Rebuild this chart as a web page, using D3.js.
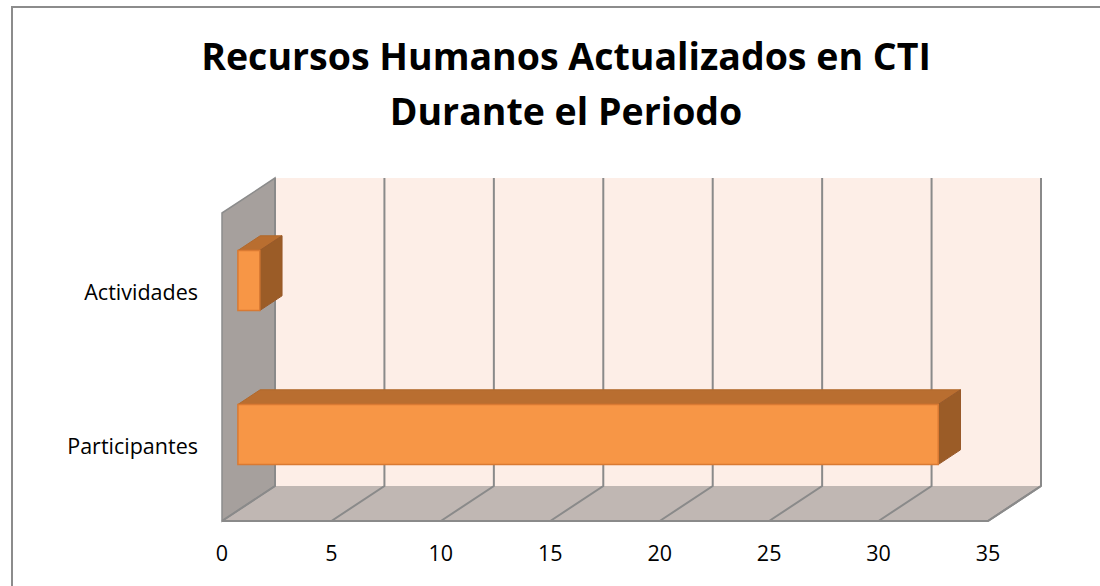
<!DOCTYPE html>
<html>
<head>
<meta charset="utf-8">
<script src="https://cdn.jsdelivr.net/npm/d3@7"></script>
<style>
  body { margin: 0; background: #fff; }
  text { font-family: "Open Sans", Lato, sans-serif; }
</style>
</head>
<body>
<svg id="chart" width="1100" height="586"></svg>
<script>
var categories = ["Actividades", "Participantes"],
    values = [1, 32],
    ticks = [0, 5, 10, 15, 20, 25, 30, 35],
    titleLines = ["Recursos Humanos Actualizados en CTI", "Durante el Periodo"];

var svg = d3.select("#chart"),
    front = {left: 222, right: 988, top: 213, bottom: 521},
    depth = {dx: 53, dy: -35},
    barDepth = [0.3, 0.72];

var x = d3.scaleLinear().domain([0, 35]).range([front.left, front.right]);
var y = d3.scaleBand().domain(categories).range([front.top, front.bottom]);

// shift a point by a fraction of the depth
function at(px, py, t) { return [px + depth.dx * t, py + depth.dy * t]; }
function poly(pts) { return "M" + pts.map(function(p) { return p.join(","); }).join("L") + "Z"; }

// chart border
svg.append("rect")
  .attr("x", 12).attr("y", 7).attr("width", 1100).attr("height", 600)
  .attr("fill", "none").attr("stroke", "#8c8c8c").attr("stroke-width", 2);

// title
svg.append("text")
  .attr("text-anchor", "middle")
  .attr("font-size", 37.5).attr("font-weight", "bold")
  .selectAll("tspan").data(titleLines).enter()
  .append("tspan")
  .attr("x", 566).attr("y", function(d, i) { return 70 + i * 55; })
  .text(function(d) { return d; });

// back wall
svg.append("path")
  .attr("d", poly([at(front.left, front.top, 1), at(front.right, front.top, 1),
                   at(front.right, front.bottom, 1), at(front.left, front.bottom, 1)]))
  .attr("fill", "#fdeee7");

// floor
svg.append("path")
  .attr("d", poly([[front.left, front.bottom], [front.right, front.bottom],
                   at(front.right, front.bottom, 1), at(front.left, front.bottom, 1)]))
  .attr("fill", "#c0b7b3");

// left wall
svg.append("path")
  .attr("d", poly([[front.left, front.top], at(front.left, front.top, 1),
                   at(front.left, front.bottom, 1), [front.left, front.bottom]]))
  .attr("fill", "#a6a09d").attr("stroke", "#8c8c8c").attr("stroke-width", 1.5);

// gridlines on back wall and floor
var grid = svg.append("g").attr("stroke", "#8a8a8a").attr("stroke-width", 2).attr("fill", "none");
grid.selectAll(".wall-grid").data(ticks).enter().append("path")
  .attr("d", function(v) {
    var a = at(x(v), front.top, 1), b = at(x(v), front.bottom, 1), c = [x(v), front.bottom];
    return "M" + a.join(",") + "L" + b.join(",") + "L" + c.join(",");
  });
grid.append("path")
  .attr("d", "M" + [front.left, front.bottom].join(",") + "L" + [front.right, front.bottom].join(",") +
             "L" + at(front.right, front.bottom, 1).join(","));

// bars
var bh = y.bandwidth() * 0.39;
var bars = svg.selectAll(".bar").data(categories).enter().append("g").attr("class", "bar");

bars.each(function(c, i) {
  var g = d3.select(this),
      y0 = y(c) + (y.bandwidth() - bh) / 2 + 1,
      y1 = y0 + bh,
      t0 = barDepth[0], t1 = barDepth[1],
      xa = x(0), xb = x(values[i]);
  // top face
  g.append("path")
    .attr("d", poly([at(xa, y0, t0), at(xb, y0, t0), at(xb, y0, t1), at(xa, y0, t1)]))
    .attr("fill", "#b96e30").attr("stroke", "#b2692c").attr("stroke-width", 1);
  // side face
  g.append("path")
    .attr("d", poly([at(xb, y0, t0), at(xb, y0, t1), at(xb, y1, t1), at(xb, y1, t0)]))
    .attr("fill", "#9b5c27").attr("stroke", "#98592a").attr("stroke-width", 1);
  // front face
  g.append("path")
    .attr("d", poly([at(xa, y0, t0), at(xb, y0, t0), at(xb, y1, t0), at(xa, y1, t0)]))
    .attr("fill", "#f79646").attr("stroke", "#d97a33").attr("stroke-width", 1.5);
});

// category labels
svg.selectAll(".cat").data(categories).enter().append("text")
  .attr("x", 198)
  .attr("y", function(c) { return y(c) + y.bandwidth() / 2 + 4; })
  .attr("text-anchor", "end").attr("dominant-baseline", "middle")
  .attr("font-size", 21.5)
  .text(function(c) { return c; });

// value axis labels
svg.selectAll(".tick-label").data(ticks).enter().append("text")
  .attr("x", function(v) { return x(v); })
  .attr("y", 555)
  .attr("text-anchor", "middle").attr("dominant-baseline", "middle")
  .attr("font-size", 21.5)
  .text(function(v) { return v; });
</script>
</body>
</html>
